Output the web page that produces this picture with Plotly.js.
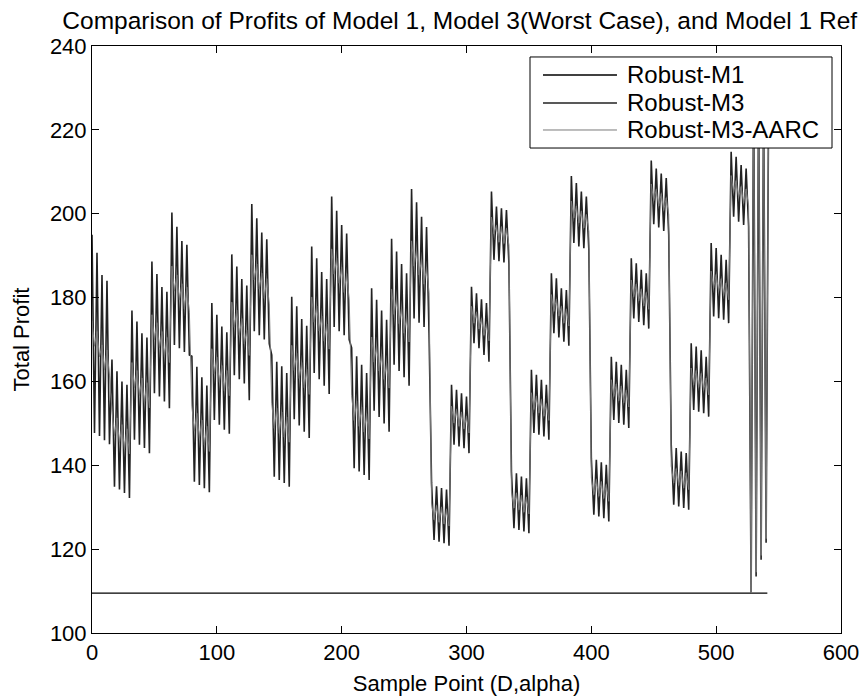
<!DOCTYPE html>
<html>
<head>
<meta charset="utf-8">
<script src="https://cdn.plot.ly/plotly-3.0.1.min.js"></script>
<style>html,body{margin:0;padding:0;background:#fff;}#chart{width:862px;height:696px;}</style>
</head>
<body>
<div id="chart"></div>
<script>
// Robust-M1: flat profit across all sample points
const m1Samples = [0, 541];
const m1Profit = [109.5, 109.5];

// Robust-M3: alternating spike extremes (peak, trough, ...), one value every 2 sample points
const m3Profit = [
  195.0,147.7,190.7,147.0,185.4,146.0,184.0,145.0,
  165.2,134.9,162.4,134.2,160.0,133.4,159.2,132.2,
  176.9,146.1,174.3,144.9,171.5,144.1,170.5,142.9,
  188.6,157.2,185.6,156.4,182.5,155.2,181.4,153.6,
  200.3,168.7,196.9,167.9,193.5,167.0,192.6,166.3,
  166.0,136.1,163.5,135.3,161.0,134.5,159.0,133.6,
  178.7,150.8,175.9,149.7,173.1,148.5,171.7,147.5,
  190.3,161.5,187.4,160.5,184.4,159.5,182.9,155.5,
  202.3,172.0,198.9,171.0,195.5,170.0,193.9,169.0,
  166.3,137.3,164.7,136.5,163.6,135.8,162.0,134.9,
  180.2,151.0,177.9,149.5,174.9,148.0,173.3,146.5,
  192.2,162.0,189.4,160.5,186.1,159.0,184.4,157.0,
  204.1,173.0,200.7,172.0,197.3,171.0,195.3,170.0,
  168.0,139.3,166.0,138.5,164.0,137.7,162.0,136.5,
  182.2,153.0,179.5,151.5,176.9,150.0,174.7,148.0,
  194.0,164.0,191.0,162.5,188.0,161.0,185.8,159.0,
  205.9,175.0,202.7,174.0,199.3,173.0,196.8,171.5,
  135.8,122.2,135.0,121.8,134.6,121.4,134.2,120.8,
  159.2,144.9,158.0,144.5,157.2,144.1,156.4,142.9,
  182.6,169.1,181.0,167.9,179.6,166.3,178.7,164.7,
  205.3,189.0,201.7,188.7,201.3,188.4,200.9,188.0,
  138.5,125.0,138.1,124.6,137.3,124.2,136.9,123.8,
  162.8,147.7,161.6,147.3,160.4,146.9,159.2,146.1,
  185.8,171.5,184.6,170.5,182.2,169.5,181.8,168.5,
  209.0,193.0,207.3,192.2,205.3,191.8,204.1,191.4,
  141.7,128.2,141.3,127.8,140.7,127.4,140.1,126.6,
  165.9,150.8,164.7,150.1,164.0,149.7,162.8,148.9,
  189.4,175.0,188.2,174.2,186.6,173.4,185.8,172.6,
  212.7,197.5,210.8,196.7,209.6,195.9,208.5,195.0,
  144.9,130.6,144.1,130.2,143.3,129.8,142.9,129.4,
  169.1,153.2,168.3,152.8,167.4,152.4,165.9,151.6,
  193.0,175.5,191.8,175.1,190.2,174.7,189.0,173.9,
  214.8,199.3,213.6,198.1,211.6,197.3,210.8,196.9,
  109.5,232.0,113.5,230.0,117.5,228.0,121.5,226.0
];

// Robust-M3-AARC: smaller oscillation through the middle of each block
const aarcProfit = [
  174.4,168.4,171.9,165.9,168.7,162.7,167.5,161.5,
  153.1,147.1,151.3,145.3,149.7,143.7,148.7,142.7,
  164.5,158.5,162.6,156.6,160.8,154.8,159.7,153.7,
  175.9,169.9,174.0,168.0,171.9,165.9,170.5,164.5,
  187.5,181.5,185.4,179.4,183.3,177.3,182.5,176.5,
  154.1,148.1,152.4,146.4,150.8,144.8,149.3,143.3,
  167.8,161.8,165.8,159.8,163.8,157.8,162.6,156.6,
  178.9,172.9,177.0,171.0,175.0,169.0,172.2,166.2,
  190.2,184.2,188.0,182.0,185.8,179.8,184.5,178.5,
  154.8,148.8,153.6,147.6,152.7,146.7,151.5,145.5,
  168.6,162.6,166.7,160.7,164.5,158.5,162.9,156.9,
  180.1,174.1,178.0,172.0,175.6,169.6,173.7,167.7,
  191.6,185.6,189.4,183.4,187.2,181.2,185.7,179.7,
  156.7,150.7,155.3,149.3,153.9,147.9,152.3,146.3,
  170.6,164.6,168.5,162.5,166.5,160.5,164.4,158.4,
  182.0,176.0,179.8,173.8,177.5,171.5,175.4,169.4,
  193.5,187.5,191.4,185.4,189.2,183.2,187.2,181.2,
  131.0,127.0,130.4,126.4,130.0,126.0,129.5,125.5,
  154.1,150.1,153.3,149.3,152.7,148.7,151.7,147.7,
  177.9,173.9,176.5,172.5,175.0,171.0,173.7,169.7,
  199.2,195.2,197.2,193.2,196.9,192.9,196.5,192.5,
  133.8,129.8,133.4,129.4,132.8,128.8,132.4,128.4,
  157.3,153.3,156.5,152.5,155.7,151.7,154.7,150.7,
  180.7,176.7,179.6,175.6,177.9,173.9,177.2,173.2,
  203.0,199.0,201.8,197.8,200.6,196.6,199.8,195.8,
  137.0,133.0,136.6,132.6,136.1,132.1,135.4,131.4,
  160.4,156.4,159.4,155.4,158.9,154.9,157.9,153.9,
  184.2,180.2,183.2,179.2,182.0,178.0,181.2,177.2,
  207.1,203.1,205.8,201.8,204.8,200.8,203.8,199.8,
  139.8,135.8,139.2,135.2,138.6,134.6,138.2,134.2,
  163.2,159.2,162.6,158.6,161.9,157.9,160.8,156.8,
  186.3,182.3,185.5,181.5,184.5,180.5,183.5,179.5,
  209.1,205.1,207.9,203.9,206.5,202.5,205.9,201.9,
  109.5,231.0,114.5,229.0,118.5,227.0,122.5,225.0
];

const seriesNames = ['Robust-M1', 'Robust-M3', 'Robust-M3-AARC'];
const xTicks = [0, 100, 200, 300, 400, 500, 600];
const yTicks = [100, 120, 140, 160, 180, 200, 220, 240];

const sampleStep = 2;
const m3Samples = m3Profit.map((_, i) => i * sampleStep);
const aarcSamples = aarcProfit.map((_, i) => i * sampleStep);

const FONT = 'Liberation Sans, Arial, Helvetica, sans-serif';
const lineStyles = [
  {color: '#000000', width: 1.4},
  {color: '#222222', width: 1.6},
  {color: '#7a7a7a', width: 1}
];

const traces = [
  {x: m1Samples, y: m1Profit, name: seriesNames[0], type: 'scatter', mode: 'lines', line: lineStyles[0]},
  {x: m3Samples, y: m3Profit, name: seriesNames[1], type: 'scatter', mode: 'lines', line: lineStyles[1]},
  {x: aarcSamples, y: aarcProfit, name: seriesNames[2], type: 'scatter', mode: 'lines', line: lineStyles[2]}
];

// Legend box (MATLAB style, opaque, drawn in paper coordinates)
const legBox = {x0: 0.5848, x1: 0.9880, y0: 0.8262, y1: 0.9813};
const legRows = [0.9506, 0.9029, 0.8569];
const legLine = {x0: 0.6021, x1: 0.7009, tx: 0.7116};

const shapes = [{
  type: 'rect', xref: 'paper', yref: 'paper', layer: 'above',
  x0: legBox.x0, x1: legBox.x1, y0: legBox.y0, y1: legBox.y1,
  fillcolor: '#ffffff', line: {color: '#000', width: 1}
}];
const annotations = [];
seriesNames.forEach((name, i) => {
  shapes.push({type: 'line', xref: 'paper', yref: 'paper', layer: 'above',
    x0: legLine.x0, x1: legLine.x1, y0: legRows[i], y1: legRows[i],
    line: {color: lineStyles[i].color, width: Math.min(lineStyles[i].width, 1.3)}});
  annotations.push({xref: 'paper', yref: 'paper', x: legLine.tx, y: legRows[i],
    xanchor: 'left', yanchor: 'middle', showarrow: false, text: name,
    font: {family: FONT, size: 24, color: '#000'}});
});

const axisCommon = {
  showline: true, linecolor: '#000', linewidth: 1, mirror: 'ticks',
  ticks: 'inside', ticklen: 7, tickcolor: '#000', tickwidth: 1,
  showgrid: false, zeroline: false,
  tickfont: {family: FONT, size: 22, color: '#000'}
};

const layout = {
  width: 862, height: 696,
  margin: {l: 92, r: 21, t: 46, b: 63},
  paper_bgcolor: '#ffffff', plot_bgcolor: '#ffffff',
  font: {family: FONT, size: 22, color: '#000'},
  showlegend: false,
  title: {text: 'Comparison of Profits of Model 1, Model 3(Worst Case), and Model 1 Ref',
          font: {family: FONT, size: 24.5, color: '#000'},
          x: 0.491, xref: 'paper', xanchor: 'center', y: 0.971, yanchor: 'middle'},
  xaxis: Object.assign({}, axisCommon, {
    range: [0, 600], tickvals: xTicks, ticktext: xTicks.map(String),
    title: {text: 'Sample Point (D,alpha)', font: {family: FONT, size: 22, color: '#000'}, standoff: 12}
  }),
  yaxis: Object.assign({}, axisCommon, {
    range: [100, 240], tickvals: yTicks, ticktext: yTicks.map(String),
    title: {text: 'Total Profit', font: {family: FONT, size: 22, color: '#000'}, standoff: 14}
  }),
  shapes: shapes,
  annotations: annotations
};

Plotly.newPlot('chart', traces, layout, {displayModeBar: false, staticPlot: true});
</script>
</body>
</html>
